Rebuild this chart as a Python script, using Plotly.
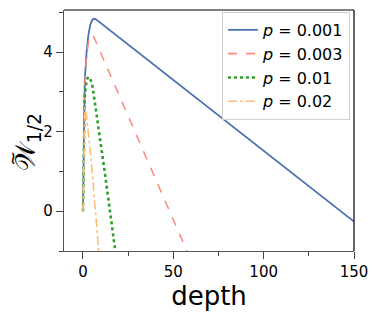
import plotly.graph_objects as go

# ---- data ----
labels = ["<i>p</i> = 0.001", "<i>p</i> = 0.003", "<i>p</i> = 0.01", "<i>p</i> = 0.02"]

depth_001 = [0, 1, 2, 3, 4, 5, 6, 7, 150]
w_001 = [0.0, 3.3, 4.0, 4.43, 4.68, 4.8, 4.84, 4.83, -0.26]

depth_003 = [0, 1, 2, 3, 4, 5, 6, 57.5]
w_003 = [0.0, 3.2, 3.9, 4.25, 4.4, 4.45, 4.38, -1.0]

depth_01 = [0, 1, 2, 3, 4, 5, 6, 7, 8, 9, 10, 11, 12, 13, 14, 15, 16, 17, 18]
w_01 = [0.0, 2.9, 3.3, 3.38, 3.33, 3.2, 2.92, 2.62, 2.32, 2.02, 1.68, 1.34, 1.0,
        0.66, 0.32, -0.02, -0.36, -0.7, -1.04]

depth_02 = [0, 1, 2, 3, 4, 5, 6, 7, 8, 9]
w_02 = [0.0, 2.62, 2.38, 2.0, 1.55, 1.05, 0.5, -0.05, -0.6, -1.15]

x_ticks = [0, 50, 100, 150]
y_ticks = [0, 2, 4]

colors = ["#4c72b0", "#ff8a80", "#2ca02c", "#ffbe7a"]
dashes = ["solid", "dash", "dot", "dashdot"]
widths = [1.8, 1.6, 2.6, 1.6]

series = [(depth_001, w_001), (depth_003, w_003), (depth_01, w_01), (depth_02, w_02)]

fig = go.Figure()
for (xs, ys), lab, c, d, w in zip(series, labels, colors, dashes, widths):
    fig.add_trace(go.Scatter(x=xs, y=ys, mode="lines", name=lab,
                             line=dict(color=c, dash=d, width=w)))

font_family = "DejaVu Sans"
fig.update_layout(
    width=379, height=316,
    margin=dict(l=64, r=25, t=10, b=65),
    plot_bgcolor="white", paper_bgcolor="white",
    font=dict(family=font_family, color="black"),
    showlegend=True,
    legend=dict(x=0.986, y=0.992, xanchor="right", yanchor="top",
                bgcolor="rgba(255,255,255,0.8)", bordercolor="#d0d0d0", borderwidth=1,
                font=dict(size=16, family=font_family), itemwidth=30,
                tracegroupgap=0),
    xaxis=dict(range=[-10.5, 150], tickvals=x_ticks, ticks="outside", ticklen=7,
               tickwidth=1.2, tickcolor="#444", showline=True, linecolor="#555",
               linewidth=1.2, showgrid=False, zeroline=False,
               tickfont=dict(size=15),
               minor=dict(tickvals=[25, 75, 125], ticks="outside", ticklen=4,
                          tickwidth=1, tickcolor="#444", showgrid=False),
               title=dict(text="depth", font=dict(size=26), standoff=4)),
    yaxis=dict(range=[-1, 5.06], tickvals=y_ticks, ticks="outside", ticklen=7,
               tickwidth=1.2, tickcolor="#444", showline=True, linecolor="#555",
               linewidth=1.2, showgrid=False, zeroline=False,
               tickfont=dict(size=15),
               minor=dict(tickvals=[-1, 1, 3, 5], ticks="outside", ticklen=4,
                          tickwidth=1, tickcolor="#444", showgrid=False)),
)

# top and right spines (black)
fig.add_shape(type="line", xref="paper", yref="paper", x0=0, x1=1, y0=1, y1=1,
              line=dict(color="black", width=1.2))
fig.add_shape(type="line", xref="paper", yref="paper", x0=1, x1=1, y0=0, y1=1,
              line=dict(color="black", width=1.2))

# y-axis title: script W with tilde and subscript 1/2
fig.add_annotation(text="𝒲<sub>1/2</sub>", xref="paper", yref="paper",
                   x=-0.125, y=0.45, xanchor="center", yanchor="middle",
                   textangle=-90, showarrow=False, font=dict(size=27, family=font_family))
fig.add_annotation(text="~", xref="paper", yref="paper",
                   x=-0.18, y=0.385, xanchor="center", yanchor="middle",
                   textangle=-90, showarrow=False, font=dict(size=18, family=font_family))

fig.write_html("out.html", config={"displayModeBar": False},
               post_script="document.body.style.margin='0';")
